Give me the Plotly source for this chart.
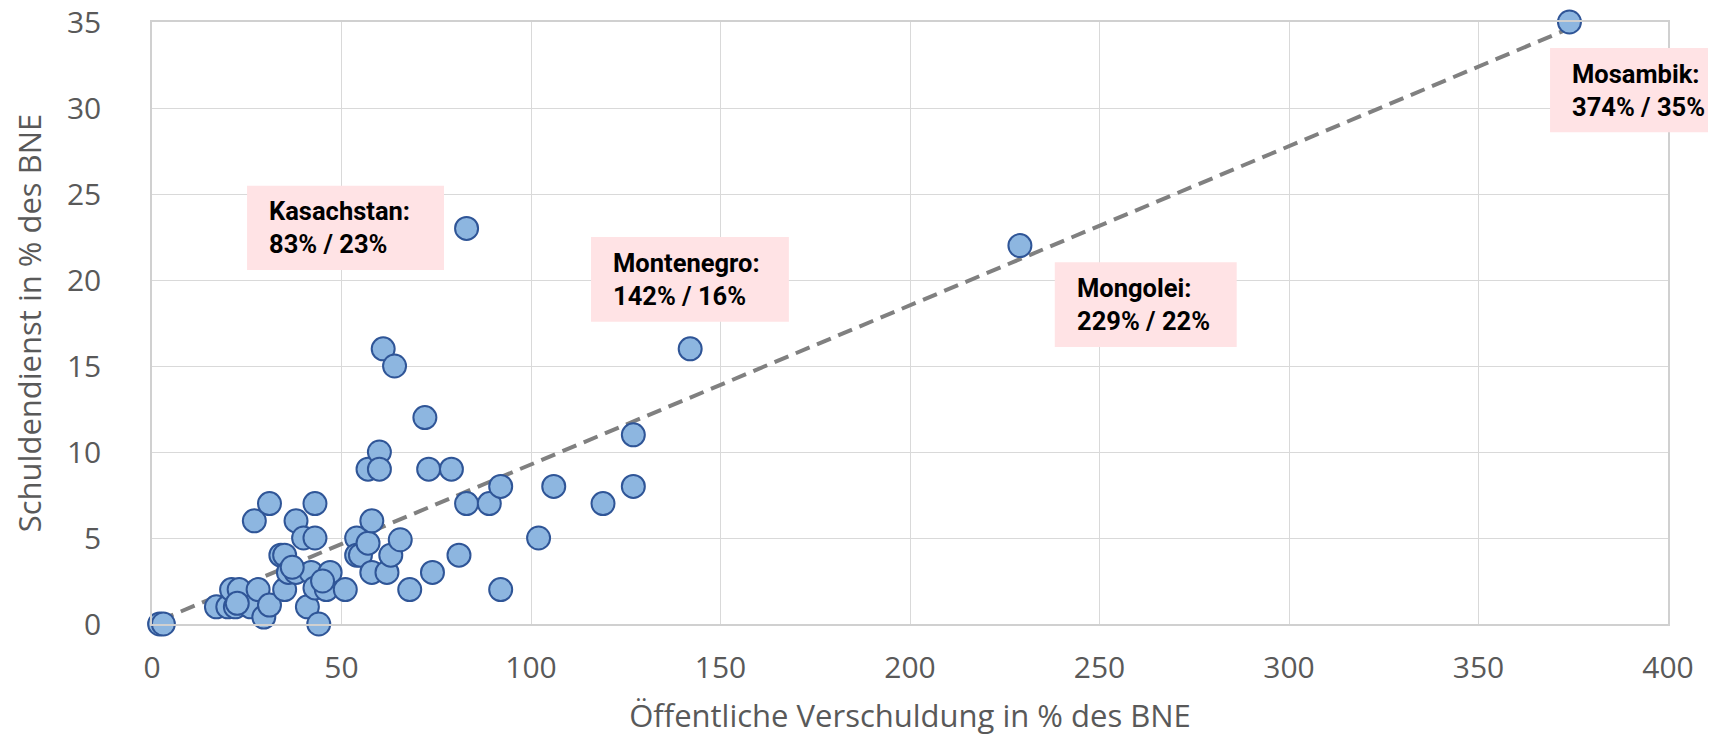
import numpy as np
import plotly.graph_objects as go

# Öffentliche Verschuldung in % des BNE (x) and Schuldendienst in % des BNE (y)
debt = [2, 3, 17, 20, 22, 21, 23, 26, 28, 29.5, 31, 27, 31, 34, 35, 35, 36, 38, 38, 40,
        41, 42, 43, 43, 43, 44, 46, 47, 51, 54, 54, 55, 57, 57, 58, 58, 60, 60, 61, 62,
        63, 64, 65.5, 68, 72, 73, 74, 79, 81, 83, 83, 89, 92, 92, 102, 106, 119, 127, 127, 142,
        229, 374, 37, 45, 22.5]
service = [0, 0, 1, 1, 1, 2, 2, 1, 2, 0.4, 1.1, 6, 7, 4, 4, 2, 3, 3, 6, 5,
           1, 3, 7, 5, 2.1, 0, 2, 3, 2, 5, 4, 4, 4.7, 9, 6, 3, 10, 9, 16, 3,
           4, 15, 4.9, 2, 12, 9, 3, 9, 4, 7, 23, 7, 8, 2, 5, 8, 7, 11, 8, 16,
           22, 35, 3.3, 2.5, 1.2]

labels = [
    ("Kasachstan:", "83% / 23%"),
    ("Montenegro:", "142% / 16%"),
    ("Mongolei:", "229% / 22%"),
    ("Mosambik:", "374% / 35%"),
]
# label box layout (paper fractions): x0, x1, y0, y1
boxes = [
    (0.0627, 0.1926, 0.588, 0.728),
    (0.2896, 0.4201, 0.502, 0.643),
    (0.5955, 0.7155, 0.460, 0.601),
    (0.9222, 1.10, 0.817, 0.957),
]

x = np.array(debt, dtype=float)
y = np.array(service, dtype=float)
slope, intercept = np.polyfit(x, y, 1)
tx = np.array([x.min(), x.max()])
ty = slope * tx + intercept

fig = go.Figure()
fig.add_trace(go.Scatter(
    x=tx, y=ty, mode="lines",
    line=dict(color="#808080", width=4, dash="15px,8px"),
    hoverinfo="skip", showlegend=False,
))
fig.add_trace(go.Scatter(
    x=debt, y=service, mode="markers",
    marker=dict(size=23, color="#8DB6E0", line=dict(color="#2F5597", width=2)),
    showlegend=False, cliponaxis=False,
))

for (l1, l2), (x0, x1, y0, y1) in zip(labels, boxes):
    fig.add_shape(type="rect", xref="paper", yref="paper",
                  x0=x0, x1=x1, y0=y0, y1=y1,
                  fillcolor="#FFE3E5", line=dict(width=0), layer="above")
    fig.add_annotation(xref="paper", yref="paper",
                       x=x0 + 20 / 1516, y=(y0 + y1) / 2,
                       xanchor="left", yanchor="middle", align="left",
                       showarrow=False,
                       text=f"<b>{l1}</b><br><b>{l2}</b>",
                       font=dict(family="Roboto", size=25.5, color="#000000"))

axis_font = dict(family="Open Sans", size=30, color="#595959")
title_font = dict(family="Open Sans", size=31, color="#595959")
fig.update_xaxes(
    range=[0, 400], dtick=50, showgrid=True, gridcolor="#D9D9D9", gridwidth=1.3,
    showline=True, linecolor="#D0D0D0", linewidth=1.5, mirror=True,
    zeroline=False, tickfont=axis_font, ticks="", ticklabelstandoff=16,
    automargin=False, ticklabeloverflow="allow",
    title=dict(text="Öffentliche Verschuldung in % des BNE", font=title_font, standoff=20),
)
fig.update_yaxes(
    range=[0, 35], dtick=5, showgrid=True, gridcolor="#D9D9D9", gridwidth=1.3,
    showline=True, linecolor="#D0D0D0", linewidth=1.5, mirror=True,
    zeroline=False, tickfont=axis_font, ticks="", ticklabelstandoff=43,
    automargin=False, ticklabeloverflow="allow",
    title=dict(text="Schuldendienst in % des BNE", font=title_font, standoff=24),
)
fig.update_layout(
    width=1716, height=738,
    margin=dict(l=144, r=56, t=14, b=122),
    paper_bgcolor="white", plot_bgcolor="white",
    showlegend=False,
)
fig.write_html("out.html")
